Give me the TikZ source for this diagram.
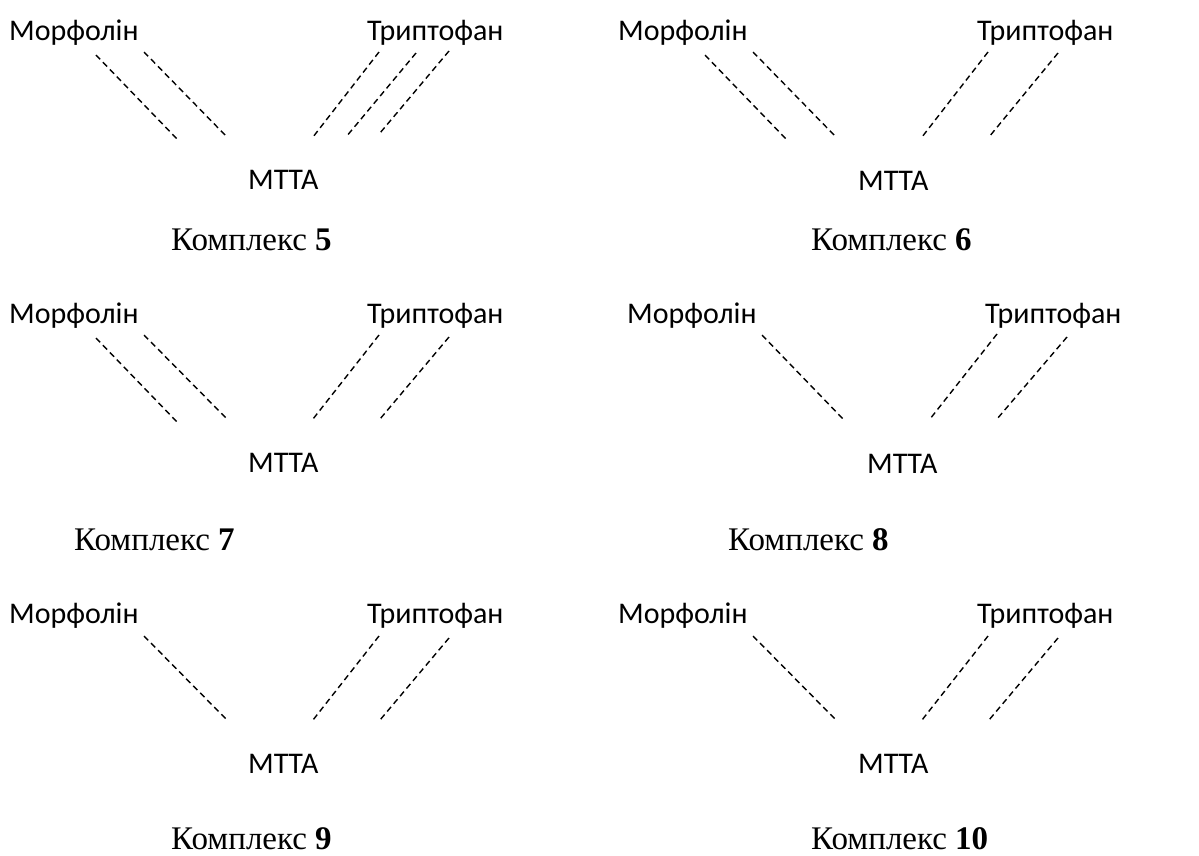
\documentclass[tikz,border=0pt]{standalone}
\usepackage{fontspec}
\setmainfont{Liberation Serif}
\newfontfamily\labfont{Carlito}
\begin{document}
\begin{tikzpicture}[x=1pt,y=-1pt,
  lab/.style={font=\labfont\fontsize{30}{35}\selectfont, inner sep=0pt, anchor=base west},
  ttl/.style={font=\fontsize{33}{39}\selectfont, inner sep=0pt, anchor=base west},
  bond/.style={dash pattern=on 6pt off 4pt, line width=1.4pt}]
\useasboundingbox (0,0) rectangle (1199,855);
% Panel 5
\node[lab] (m5) at (9,40) {Морфолін};
\node[lab] (t5) at (367,40) {Триптофан};
\node[lab] (c5) at (248,189) {МТТА};
\node[ttl] (k5) at (171,250) {Комплекс \textbf{5}};
\coordinate (a5a) at (96,55);  \coordinate (b5a) at (177,139);
\coordinate (a5b) at (144,52); \coordinate (b5b) at (227,137);
\coordinate (a5c) at (379,52); \coordinate (b5c) at (313,137);
\coordinate (a5d) at (416,53); \coordinate (b5d) at (346,137);
\coordinate (a5e) at (449,51); \coordinate (b5e) at (380,133);
\draw[bond] (a5a) -- (b5a); \draw[bond] (a5b) -- (b5b);
\draw[bond] (a5c) -- (b5c); \draw[bond] (a5d) -- (b5d); \draw[bond] (a5e) -- (b5e);
% Panel 6
\node[lab] (m6) at (618,40) {Морфолін};
\node[lab] (t6) at (977,40) {Триптофан};
\node[lab] (c6) at (858,190) {МТТА};
\node[ttl] (k6) at (811,250) {Комплекс \textbf{6}};
\coordinate (a6a) at (705,55); \coordinate (b6a) at (786,139);
\coordinate (a6b) at (753,52); \coordinate (b6b) at (836,137);
\coordinate (a6c) at (988,52); \coordinate (b6c) at (922,137);
\coordinate (a6d) at (1058,53); \coordinate (b6d) at (989,137);
\draw[bond] (a6a) -- (b6a); \draw[bond] (a6b) -- (b6b);
\draw[bond] (a6c) -- (b6c); \draw[bond] (a6d) -- (b6d);
% Panel 7
\node[lab] (m7) at (9,323) {Морфолін};
\node[lab] (t7) at (367,323) {Триптофан};
\node[lab] (c7) at (248,472) {МТТА};
\node[ttl] (k7) at (74,550) {Комплекс \textbf{7}};
\coordinate (a7a) at (96,338); \coordinate (b7a) at (177,422);
\coordinate (a7b) at (144,335); \coordinate (b7b) at (227,419);
\coordinate (a7c) at (379,335); \coordinate (b7c) at (313,419);
\coordinate (a7d) at (449,337); \coordinate (b7d) at (380,419);
\draw[bond] (a7a) -- (b7a); \draw[bond] (a7b) -- (b7b);
\draw[bond] (a7c) -- (b7c); \draw[bond] (a7d) -- (b7d);
% Panel 8
\node[lab] (m8) at (627,323) {Морфолін};
\node[lab] (t8) at (985,323) {Триптофан};
\node[lab] (c8) at (867,473) {МТТА};
\node[ttl] (k8) at (728,550) {Комплекс \textbf{8}};
\coordinate (a8a) at (762,335); \coordinate (b8a) at (843,419);
\coordinate (a8c) at (997,334); \coordinate (b8c) at (930,419);
\coordinate (a8d) at (1067,337); \coordinate (b8d) at (997,419);
\draw[bond] (a8a) -- (b8a);
\draw[bond] (a8c) -- (b8c); \draw[bond] (a8d) -- (b8d);
% Panel 9
\node[lab] (m9) at (9,623) {Морфолін};
\node[lab] (t9) at (367,623) {Триптофан};
\node[lab] (c9) at (248,773) {МТТА};
\node[ttl] (k9) at (171,849) {Комплекс \textbf{9}};
\coordinate (a9b) at (144,636); \coordinate (b9b) at (227,720);
\coordinate (a9c) at (379,636); \coordinate (b9c) at (313,720);
\coordinate (a9d) at (449,638); \coordinate (b9d) at (380,720);
\draw[bond] (a9b) -- (b9b);
\draw[bond] (a9c) -- (b9c); \draw[bond] (a9d) -- (b9d);
% Panel 10
\node[lab] (m10) at (618,623) {Морфолін};
\node[lab] (t10) at (977,623) {Триптофан};
\node[lab] (c10) at (858,773) {МТТА};
\node[ttl] (k10) at (811,849) {Комплекс \textbf{10}};
\coordinate (a10b) at (753,636); \coordinate (b10b) at (836,720);
\coordinate (a10c) at (988,636); \coordinate (b10c) at (922,720);
\coordinate (a10d) at (1058,638); \coordinate (b10d) at (989,720);
\draw[bond] (a10b) -- (b10b);
\draw[bond] (a10c) -- (b10c); \draw[bond] (a10d) -- (b10d);
\end{tikzpicture}
\end{document}
